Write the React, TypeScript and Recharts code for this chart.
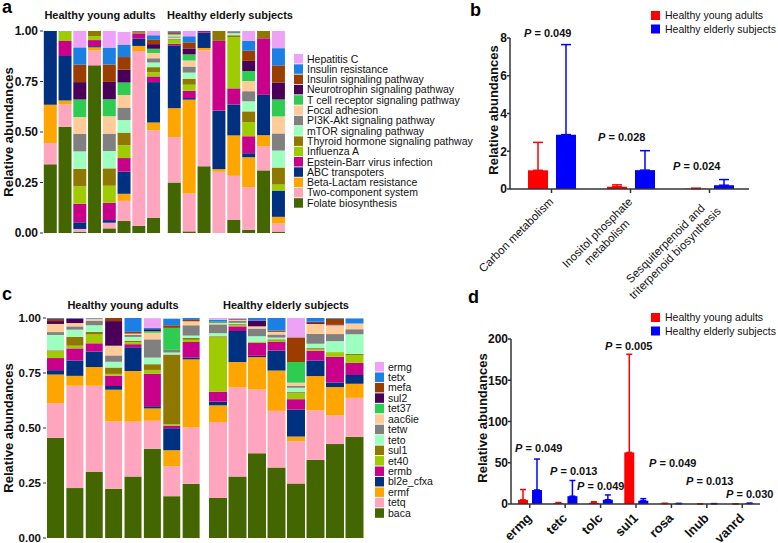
import React from 'react';
import { BarChart, Bar, XAxis, YAxis, ErrorBar } from 'recharts';

const FONT = '"Liberation Sans", Arial, Helvetica, sans-serif';

// ---------- Panel a : KEGG pathways (stack order bottom -> top) ----------
const aYoungSamples = ['Y1', 'Y2', 'Y3', 'Y4', 'Y5', 'Y6', 'Y7', 'Y8'];
const aElderlySamples = ['E1', 'E2', 'E3', 'E4', 'E5', 'E6', 'E7', 'E8'];
const aPathways = [
  'Folate biosynthesis', 'Two-component system', 'Beta-Lactam resistance', 'ABC transpoters',
  'Epstein-Barr virus infection', 'Influenza A', 'Thyroid hormone signaling pathway',
  'mTOR signaling pathway', 'PI3K-Akt signaling pathway', 'Focal adhesion',
  'T cell receptor signaling pathway', 'Neurotrophin signaling pathway',
  'Insulin signaling pathway', 'Insulin resistance', 'Hepatitis C',
];
// values: 8 young then 8 elderly
const aFolate = [0.34, 0.526, 0.005, 0.83, 0.023, 0.06, 0.036, 0.076, 0.25, 0.008, 0.33, 0, 0.066, 0.015, 0.31, 0.007];
const aTwoComponent = [0.105, 0.11, 0.015, 0.074, 0.028, 0.099, 0.865, 0.433, 0.225, 0.188, 0.574, 0.303, 0.217, 0.212, 0.12, 0.04];
const aBetaLactam = [0.19, 0.02, 0, 0.015, 0, 0.035, 0.025, 0.038, 0.143, 0.464, 0.012, 0.013, 0.2, 0.148, 0.054, 0.033];
const aABC = [0.365, 0.22, 0.033, 0.006, 0.013, 0.11, 0.036, 0.2, 0.311, 0.008, 0.076, 0.29, 0.153, 0.02, 0.2, 0.13];
const aEBV = [0, 0.074, 0.092, 0.03, 0.086, 0.067, 0.026, 0.028, 0.008, 0.036, 0.008, 0.345, 0.08, 0.084, 0.28, 0];
const aInfluenza = [0, 0.048, 0.086, 0.02, 0.084, 0.064, 0, 0.021, 0.02, 0.03, 0, 0, 0.253, 0.07, 0, 0.03];
const aThyroid = [0, 0, 0.087, 0.025, 0.086, 0.062, 0.006, 0.025, 0.004, 0.03, 0, 0.049, 0.01, 0.053, 0.038, 0.084];
const aMTOR = [0, 0, 0.086, 0, 0.086, 0.062, 0, 0.023, 0.006, 0.03, 0, 0, 0.01, 0.05, 0, 0.084];
const aPI3K = [0, 0.002, 0.086, 0, 0.086, 0.062, 0.006, 0.021, 0.006, 0.03, 0, 0, 0.01, 0.05, 0, 0.085];
const aFocal = [0, 0, 0.084, 0, 0.086, 0.062, 0, 0.026, 0.008, 0.03, 0, 0, 0, 0.05, 0, 0.084];
const aTcell = [0, 0, 0.087, 0, 0.084, 0.062, 0, 0.021, 0.006, 0.03, 0, 0, 0, 0.05, 0, 0.084];
const aNeurotrophin = [0, 0, 0.086, 0, 0.086, 0.064, 0, 0.023, 0.005, 0.03, 0, 0, 0, 0.05, 0, 0.084];
const aInsulinSig = [0, 0, 0.086, 0, 0.086, 0.062, 0, 0.021, 0.005, 0.03, 0, 0, 0, 0.05, 0, 0.085];
const aInsulinRes = [0, 0, 0.086, 0, 0.084, 0.062, 0, 0.023, 0.003, 0.03, 0, 0, 0, 0.05, 0, 0.085];
const aHepatitis = [0, 0, 0.086, 0, 0.086, 0.062, 0, 0.021, 0.002, 0.03, 0, 0, 0, 0.05, 0, 0.085];
const aValues = [aFolate, aTwoComponent, aBetaLactam, aABC, aEBV, aInfluenza, aThyroid, aMTOR, aPI3K,
  aFocal, aTcell, aNeurotrophin, aInsulinSig, aInsulinRes, aHepatitis];

// ---------- Panel c : ARGs (stack order bottom -> top) ----------
const cGenes = ['baca', 'tetq', 'ermf', 'bl2e_cfxa', 'ermb', 'et40', 'sul1', 'teto', 'tetw', 'aac6ie', 'tet37', 'sul2', 'mefa', 'tetx', 'ermg'];
const cBaca = [0.455, 0.227, 0.3, 0.224, 0.279, 0.406, 0.19, 0.247, 0.182, 0.28, 0.385, 0.32, 0.248, 0.355, 0.427, 0.46];
const cTetq = [0.158, 0.465, 0.392, 0.306, 0.25, 0.127, 0.136, 0.255, 0.345, 0.405, 0.29, 0.258, 0.192, 0.226, 0.13, 0.177];
const cErmf = [0.13, 0.045, 0.085, 0.144, 0.23, 0.056, 0.073, 0.31, 0.076, 0.115, 0.147, 0.183, 0.021, 0.155, 0.129, 0.064];
const cBl2e = [0.02, 0.07, 0.07, 0.017, 0.108, 0.01, 0.1, 0.009, 0.017, 0.141, 0.006, 0.091, 0.123, 0.071, 0.021, 0.04];
const cErmb = [0.055, 0.055, 0.038, 0.047, 0.014, 0.148, 0.012, 0.07, 0.045, 0.021, 0.059, 0.039, 0.047, 0.044, 0.117, 0.055];
const cEt40 = [0.03, 0.012, 0.04, 0.008, 0.01, 0.017, 0.006, 0.01, 0.247, 0.005, 0.006, 0.006, 0.027, 0.006, 0.021, 0.036];
const cSul1 = [0.005, 0.04, 0.012, 0.029, 0.006, 0.026, 0.317, 0.008, 0.005, 0.005, 0, 0.006, 0.005, 0.006, 0, 0.005];
const cTeto = [0.07, 0.033, 0.03, 0.026, 0.017, 0.03, 0.009, 0.011, 0.014, 0.006, 0.024, 0.008, 0.02, 0.02, 0.05, 0.089];
const cTetw = [0.013, 0.015, 0.021, 0.029, 0.009, 0.083, 0.012, 0.047, 0.04, 0.01, 0.035, 0.014, 0.008, 0.045, 0.032, 0.023];
const cAac6ie = [0.037, 0.015, 0.009, 0.044, 0.006, 0.03, 0, 0.018, 0.006, 0.005, 0.01, 0.012, 0.015, 0.045, 0.04, 0.026];
const cTet37 = [0, 0, 0, 0, 0, 0.008, 0.1, 0, 0.006, 0, 0, 0, 0.094, 0, 0, 0];
const cSul2 = [0.013, 0.02, 0, 0.112, 0, 0.008, 0, 0, 0, 0.004, 0.026, 0, 0, 0.004, 0.004, 0];
const cMefa = [0.01, 0, 0, 0.015, 0.008, 0, 0.012, 0.006, 0, 0, 0, 0.006, 0.112, 0.006, 0.026, 0];
const cTetx = [0.004, 0.003, 0.003, 0, 0.064, 0.006, 0.03, 0.009, 0.009, 0, 0.012, 0.057, 0, 0.017, 0.004, 0.023];
const cErmg = [0, 0, 0, 0, 0, 0.044, 0, 0, 0.009, 0.003, 0, 0, 0.088, 0, 0, 0];
const cValues = [cBaca, cTetq, cErmf, cBl2e, cErmb, cEt40, cSul1, cTeto, cTetw, cAac6ie, cTet37, cSul2, cMefa, cTetx, cErmg];

// ---------- Panel b ----------
const bCategories = ['Carbon metabolism', 'Inositol phosphate\nmetabolism', 'Sesquiterpenoid and\ntriterpenoid biosynthesis'];
const bYoung = [0.99, 0.12, 0.02];
const bYoungErr = [1.48, 0.1, 0.02];
const bElderly = [2.88, 1.0, 0.2];
const bElderlyErr = [4.77, 1.03, 0.3];
const bPValues = ['0.049', '0.028', '0.024'];

// ---------- Panel d ----------
const dCategories = ['ermg', 'tetc', 'tolc', 'sul1', 'rosa', 'lnub', 'vanrd'];
const dYoung = [5, 1, 1.5, 62.5, 0.5, 0.1, 0.1];
const dYoungErr = [12.5, 0.8, 1.2, 119, 0.3, 0.1, 0.1];
const dElderly = [17, 9.5, 5.2, 4, 0.4, 0.3, 0.6];
const dElderlyErr = [37.5, 19, 5.8, 2.5, 0.3, 0.2, 0.4];
const dPValues = ['0.049', '0.013', '0.049', '0.005', '0.049', '0.013', '0.030'];

const groupTitles = ['Healthy young adults', 'Healthy elderly subjects'];
const stackTicks = [0, 0.25, 0.5, 0.75, 1];

// ---------- styles ----------
const STACK_COLORS = [
  '#446600', '#FFA6BE', '#FFA500', '#003080', '#C8008A', '#9ECC00', '#8F7800', '#9CFFC0',
  '#808080', '#FFCC99', '#2ECC50', '#4A0058', '#9C3D00', '#1C7FE3', '#EEA2F5',
];
const RED = '#FF0000';
const BLUE = '#0000FF';
const AXIS = '#333333';
const TXT = '#111111';

function buildStack(samples: string[], values: number[][], offset: number) {
  return samples.map((s, i) => {
    const row: any = { sample: s };
    values.forEach((arr, k) => { row['k' + k] = arr[offset + i]; });
    return row;
  });
}
const aYoungRows = buildStack(aYoungSamples, aValues, 0);
const aElderlyRows = buildStack(aElderlySamples, aValues, 8);
const cYoungRows = buildStack(aYoungSamples, cValues, 0);
const cElderlyRows = buildStack(aElderlySamples, cValues, 8);

const bRows = bCategories.map((c, i) => ({
  cat: c, young: bYoung[i], elderly: bElderly[i],
  youngErr: [0, bYoungErr[i]], elderlyErr: [0, bElderlyErr[i]],
}));
const dRows = dCategories.map((c, i) => ({
  cat: c, young: dYoung[i], elderly: dElderly[i],
  youngErr: [0, dYoungErr[i]], elderlyErr: [0, dElderlyErr[i]],
}));

let _ctx: any = null;
function measure(text: string, font: string) {
  try {
    if (!_ctx) _ctx = document.createElement('canvas').getContext('2d');
    _ctx.font = font;
    return _ctx.measureText(text).width;
  } catch (e) {
    return text.length * 6;
  }
}

function StackChart(props: any) {
  const { rows, left, top, width, height, mTop, mBottom, yWidth, tickSize, gap } = props;
  return (
    <div style={{ position: 'absolute', left, top }}>
      <BarChart width={width} height={height} data={rows}
        margin={{ top: mTop, right: 0, bottom: mBottom, left: 0 }} barCategoryGap={gap}>
        <XAxis dataKey="sample" hide />
        <YAxis hide={!yWidth} width={yWidth || 0} domain={[0, 1]} ticks={stackTicks} interval={0}
          allowDataOverflow axisLine={false} tickSize={3} tickMargin={2}
          tickLine={{ stroke: AXIS }} tickFormatter={(v: number) => v.toFixed(2)}
          tick={{ fontSize: tickSize, fontWeight: 'bold', fill: TXT, fontFamily: FONT }} />
        {STACK_COLORS.map((col, k) => (
          <Bar key={k} dataKey={'k' + k} stackId="s" fill={col} isAnimationActive={false} />
        ))}
      </BarChart>
    </div>
  );
}

const BTick = (props: any) => {
  const { x, y, payload } = props;
  const lines = String(payload.value).split('\n');
  const fs = 11.5;
  const w = Math.max(...lines.map((l) => measure(l, `${fs}px ${FONT}`)));
  return (
    <g transform={`translate(${x - 4},${y + 1})rotate(-45)`}>
      {lines.map((l, i) => (
        <text key={i} x={-w / 2} y={0} dy={fs * 0.8 + i * 13.5} textAnchor="middle"
          fontSize={fs} fontFamily={FONT} fill={TXT}>{l}</text>
      ))}
    </g>
  );
};

const DTick = (props: any) => {
  const { x, y, payload } = props;
  return (
    <g transform={`translate(${x - 5},${y + 1})rotate(-45)`}>
      <text x={0} y={0} dy={11} textAnchor="end" fontSize={13} fontWeight="bold"
        fontFamily={FONT} fill={TXT}>{payload.value}</text>
    </g>
  );
};

function ErrChart(props: any) {
  const { rows, left, top, width, height, mTop, xHeight, yWidth, domain, ticks, barSize, barGap, tick, pad, errW } = props;
  return (
    <div style={{ position: 'absolute', left, top }}>
      <BarChart width={width} height={height} data={rows}
        margin={{ top: mTop, right: 1, bottom: 0, left: 0 }} barSize={barSize} barGap={barGap}>
        <XAxis dataKey="cat" height={xHeight} interval={0} tick={tick} tickSize={4} tickMargin={2}
          padding={{ left: pad, right: 0 }}
          axisLine={{ stroke: AXIS, strokeWidth: 1.5 }} tickLine={{ stroke: AXIS, strokeWidth: 1.5 }} />
        <YAxis width={yWidth} domain={domain} ticks={ticks} interval={0} allowDataOverflow
          tickSize={3} tickMargin={0}
          axisLine={{ stroke: AXIS, strokeWidth: 1.5 }} tickLine={{ stroke: AXIS, strokeWidth: 1.5 }}
          tick={{ fontSize: 12, fontWeight: 'bold', fill: TXT, fontFamily: FONT }} />
        <Bar dataKey="young" fill={RED} isAnimationActive={false}>
          <ErrorBar dataKey="youngErr" width={errW} stroke={RED} strokeWidth={1.5} direction="y" isAnimationActive={false} />
        </Bar>
        <Bar dataKey="elderly" fill={BLUE} isAnimationActive={false}>
          <ErrorBar dataKey="elderlyErr" width={errW} stroke={BLUE} strokeWidth={1.5} direction="y" isAnimationActive={false} />
        </Bar>
      </BarChart>
    </div>
  );
}

function PText({ x, y, v }: any) {
  return (
    <text x={x} y={y} fontSize={11} fontWeight="bold" fontFamily={FONT} fill={TXT}>
      <tspan fontStyle="italic">P</tspan> = {v}
    </text>
  );
}

function YLabel({ cx, cy }: any) {
  return (
    <text x={cx} y={cy} transform={`rotate(-90, ${cx}, ${cy})`} textAnchor="middle" dominantBaseline="central"
      fontSize={13} fontWeight="bold" fontFamily={FONT} fill={TXT}>Relative abundances</text>
  );
}

function SwatchLegend({ names, x, y0, step }: any) {
  const order = names.map((n: string, i: number) => ({ n, c: STACK_COLORS[i] })).reverse();
  return (
    <g>
      {order.map((it: any, i: number) => (
        <g key={it.n}>
          <rect x={x} y={y0 + i * step} width={9} height={9.5} fill={it.c} />
          <text x={x + 13} y={y0 + i * step + 8.5} fontSize={10.5} fontFamily={FONT} fill={TXT}>{it.n}</text>
        </g>
      ))}
    </g>
  );
}

function GroupLegend({ x, y }: any) {
  return (
    <g>
      <rect x={x} y={y} width={9} height={9} fill={RED} />
      <text x={x + 14} y={y + 8} fontSize={10.5} fontFamily={FONT} fill={TXT}>{groupTitles[0]}</text>
      <rect x={x} y={y + 13.5} width={9} height={9} fill={BLUE} />
      <text x={x + 14} y={y + 21.5} fontSize={10.5} fontFamily={FONT} fill={TXT}>{groupTitles[1]}</text>
    </g>
  );
}

export default function App() {
  const title = { fontSize: 11, fontWeight: 'bold' as const, fontFamily: FONT, fill: TXT, textAnchor: 'middle' as const };
  const letter = { fontSize: 18, fontWeight: 'bold' as const, fontFamily: FONT, fill: '#000' };
  return (
    <div style={{ position: 'absolute', left: 0, top: 0, width: 778, height: 543, background: '#fff', overflow: 'hidden' }}>
      {/* panel a */}
      <StackChart rows={aYoungRows} left={0} top={0} width={161} height={240} mTop={31} mBottom={7} yWidth={43} tickSize={12} gap={0.8} />
      <StackChart rows={aElderlyRows} left={167} top={0} width={119} height={240} mTop={31} mBottom={7} yWidth={0} tickSize={12} gap={0.8} />
      {/* panel c */}
      <StackChart rows={cYoungRows} left={0} top={300} width={201} height={243} mTop={18} mBottom={5} yWidth={46} tickSize={11.5} gap={1} />
      <StackChart rows={cElderlyRows} left={208} top={300} width={156} height={243} mTop={18} mBottom={5} yWidth={0} tickSize={11.5} gap={1} />
      {/* panel d */}
      <ErrChart rows={dRows} left={450} top={300} width={311} height={243} mTop={39} xHeight={39} yWidth={61}
        domain={[0, 200]} ticks={[0, 50, 100, 150, 200]} barSize={10} barGap={4} tick={<DTick />} pad={1} errW={3} />
      {/* panel b */}
      <ErrChart rows={bRows} left={450} top={0} width={300} height={300} mTop={38} xHeight={111} yWidth={60}
        domain={[0, 8]} ticks={[0, 2, 4, 6, 8]} barSize={20} barGap={8} tick={<BTick />} pad={2} errW={5}
      />

      <svg width={778} height={543} style={{ position: 'absolute', left: 0, top: 0, pointerEvents: 'none' }}>
        <text x={2} y={13} {...letter}>a</text>
        <text x={470} y={16} {...letter}>b</text>
        <text x={2} y={300} {...letter}>c</text>
        <text x={468} y={303} {...letter}>d</text>

        <text x={100} y={19} {...title}>{groupTitles[0]}</text>
        <text x={230} y={19} {...title}>{groupTitles[1]}</text>
        <text x={123} y={309} {...title}>{groupTitles[0]}</text>
        <text x={286} y={309} {...title}>{groupTitles[1]}</text>

        <YLabel cx={8} cy={132} />
        <YLabel cx={8} cy={428} />
        <YLabel cx={493} cy={110} />
        <YLabel cx={482} cy={418} />

        <SwatchLegend names={aPathways} x={294} y0={54} step={10.3} />
        <SwatchLegend names={cGenes} x={375} y0={362} step={10.45} />

        <GroupLegend x={651} y={11} />
        <GroupLegend x={651} y={313} />

        <PText x={524} y={37} v={bPValues[0]} />
        <PText x={598} y={141} v={bPValues[1]} />
        <PText x={673} y={170} v={bPValues[2]} />

        <PText x={515} y={452} v={dPValues[0]} />
        <PText x={550} y={475} v={dPValues[1]} />
        <PText x={577} y={490} v={dPValues[2]} />
        <PText x={605} y={350} v={dPValues[3]} />
        <PText x={649} y={467} v={dPValues[4]} />
        <PText x={686} y={485} v={dPValues[5]} />
        <PText x={726} y={498} v={dPValues[6]} />
      </svg>
    </div>
  );
}
